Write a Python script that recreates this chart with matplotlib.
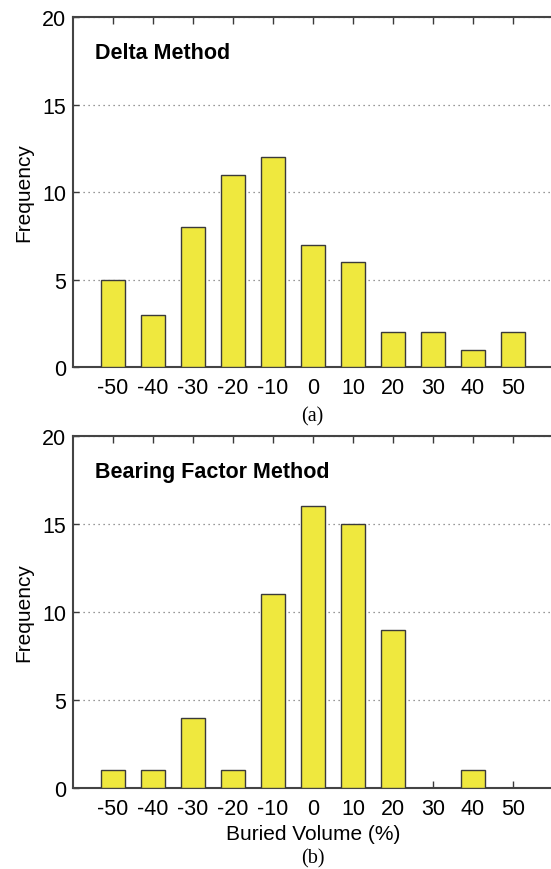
import numpy as np
import matplotlib
matplotlib.use("Agg")
import matplotlib.pyplot as plt

# Frequency of buried-volume error, binned in 10 % steps
bins = [-50, -40, -30, -20, -10, 0, 10, 20, 30, 40, 50]
delta_counts = [5, 3, 8, 11, 12, 7, 6, 2, 2, 1, 2]
bearing_counts = [1, 1, 4, 1, 11, 16, 15, 9, 0, 1, 0]
yticks = [0, 5, 10, 15, 20]

bar_color = "#efe83e"
edge_color = "#3a3a3a"
sans = "Liberation Sans"
serif = "Liberation Serif"

fig = plt.figure(figsize=(5.51, 8.70), dpi=100)

panels = [
    ([0.1325, 0.577, 0.871, 0.4023], delta_counts, "Delta Method", "(a)", 0.5207, False),
    ([0.1325, 0.0931, 0.871, 0.4046], bearing_counts, "Bearing Factor Method", "(b)", 0.0125, True),
]

for rect, counts, title, tag, tag_y, show_xlabel in panels:
    ax = fig.add_axes(rect)
    ax.bar(bins, counts, width=6.1, color=bar_color, edgecolor=edge_color,
           linewidth=1.0, zorder=3)
    ax.set_xlim(-60, 60)
    ax.set_ylim(0, 20)
    ax.set_xticks(bins)
    ax.set_xticklabels([str(b) for b in bins], fontfamily=sans, fontsize=15.5)
    ax.set_yticks(yticks)
    ax.set_yticklabels([str(t) for t in yticks], fontfamily=sans, fontsize=15.5)
    ax.tick_params(axis="x", direction="in", top=True, bottom=True, length=5,
                   width=1.0, color=edge_color, pad=7)
    ax.tick_params(axis="y", direction="in", length=4, width=1.0,
                   color=edge_color, pad=5)
    ax.yaxis.grid(True, linestyle=(0, (1, 3)), color="#777777", linewidth=0.9,
                  zorder=1)
    for side in ax.spines.values():
        side.set_color("#444444")
        side.set_linewidth(1.5)
    ax.set_ylabel("Frequency", fontfamily=sans, fontsize=15, labelpad=6)
    ax.text(0.045, 0.90, title, transform=ax.transAxes, fontfamily=sans,
            fontsize=15.5, fontweight="bold", va="center", ha="left")
    if show_xlabel:
        ax.set_xlabel("Buried Volume (%)", fontfamily=sans, fontsize=15,
                      labelpad=4)
    fig.text(0.567, tag_y, tag, fontfamily=serif, fontsize=14.5,
             ha="center", va="center")

fig.savefig("out.png", dpi=100)
